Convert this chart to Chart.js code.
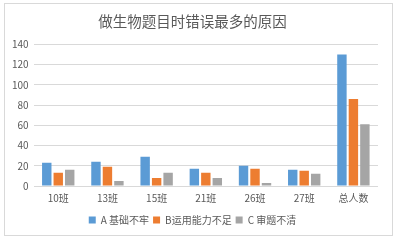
<!DOCTYPE html>
<html>
<head>
<meta charset="utf-8">
<script src="https://cdn.jsdelivr.net/npm/chart.js@4.4.0/dist/chart.umd.min.js"></script>
<style>
    body { margin: 0; background: #fff; }
    #box { position: absolute; left: 4px; top: 3px; width: 387px; height: 231px; border: 1px solid #d9d9d9; }
</style>
</head>
<body>
<div id="box"><canvas id="chart" width="387" height="231"></canvas></div>
<script>
const classes = ['10班', '13班', '15班', '21班', '26班', '27班', '总人数'];
const seriesNames = ['A 基础不牢', 'B运用能力不足', 'C 审题不清'];
const seriesA = [23, 24, 29, 17, 20, 16, 130];
const seriesB = [13, 19, 8, 13, 17, 15, 86];
const seriesC = [16, 5, 13, 8, 3, 12, 61];
const colors = ['#5b9bd5', '#ed7d31', '#a5a5a5'];

const font = "'Microsoft YaHei', 'Noto Sans CJK SC', sans-serif";
const textColor = '#595959';

let datasets = [seriesA, seriesB, seriesC].map((values, i) => ({
    label: seriesNames[i],
    data: values,
    backgroundColor: colors[i],
    barPercentage: 0.82,
    categoryPercentage: 0.7
}));

new Chart(document.getElementById('chart'), {
    type: 'bar',
    data: { labels: classes, datasets: datasets },
    options: {
        responsive: false,
        animation: false,
        layout: { padding: { left: 2, right: 14, top: 0, bottom: 0 } },
        plugins: {
            title: {
                display: true,
                text: '做生物题目时错误最多的原因',
                color: textColor,
                font: { family: font, size: 14.5, weight: 'normal' },
                padding: { top: 9, bottom: 14 }
            },
            legend: {
                position: 'bottom',
                labels: {
                    boxWidth: 7,
                    boxHeight: 7,
                    padding: 4,
                    color: textColor,
                    font: { family: font, size: 10 }
                }
            },
            tooltip: { enabled: false }
        },
        scales: {
            x: {
                grid: { display: false },
                border: { display: false },
                ticks: { color: textColor, font: { family: font, size: 10 }, padding: -2 },
                afterFit: (scale) => { scale.height += 9; }
            },
            y: {
                min: 0,
                max: 140,
                ticks: { stepSize: 20, color: textColor, font: { family: font, size: 10 }, padding: 5 },
                grid: { color: '#d9d9d9', drawTicks: false },
                border: { display: false }
            }
        }
    }
});
</script>
</body>
</html>
